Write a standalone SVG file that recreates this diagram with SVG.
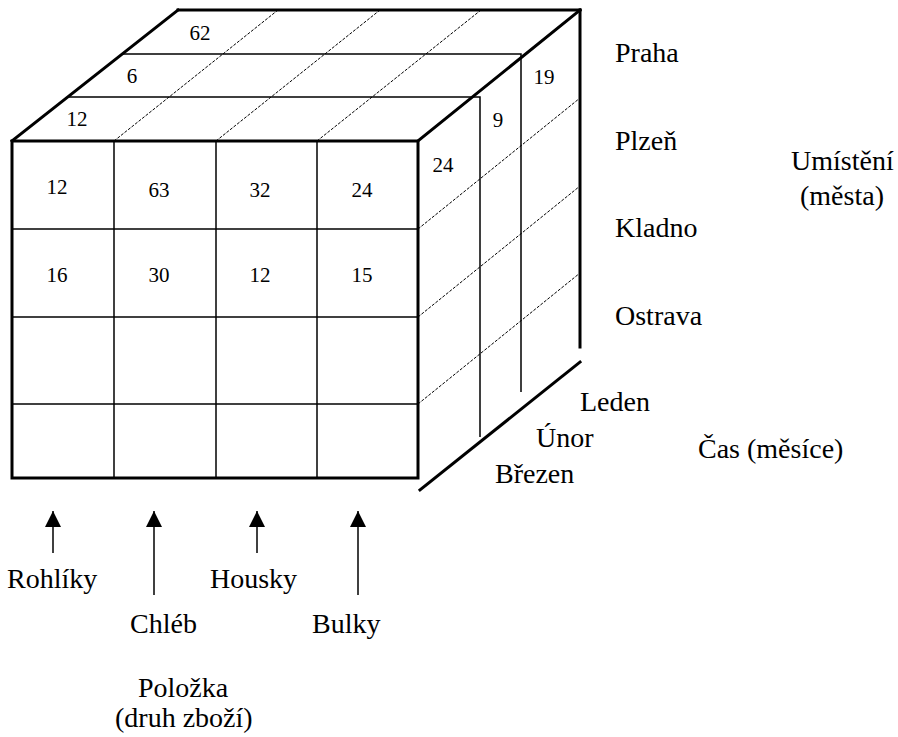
<svg xmlns="http://www.w3.org/2000/svg" width="898" height="737" viewBox="0 0 898 737">
<defs>
<style>
.thick{stroke:#000;stroke-width:3;fill:none;stroke-linecap:square}
.thin{stroke:#000;stroke-width:1.5;fill:none}
.dash{stroke:#000;stroke-width:1;fill:none;stroke-dasharray:3 1.5}
.num{font-family:"Liberation Serif",serif;font-size:21px;fill:#000;text-anchor:middle}
.lbl{font-family:"Liberation Serif",serif;font-size:28px;fill:#000}
</style>
<marker id="ah" viewBox="0 0 16 16" markerWidth="16" markerHeight="16" refX="16" refY="8" orient="auto" markerUnits="userSpaceOnUse">
<path d="M0,0 L16,8 L0,16 Z" fill="#000"/>
</marker>
</defs>
<rect width="898" height="737" fill="#fff"/>
<g id="cube">
<g id="top-face">
<line class="dash" x1="114" y1="141" x2="278" y2="10"/>
<line class="dash" x1="216" y1="141" x2="380" y2="10"/>
<line class="dash" x1="317" y1="141" x2="481" y2="10"/>
<polyline class="thin" points="68,97 480,97 480,437"/>
<polyline class="thin" points="122,54 521,54 521,392"/>
<line class="thick" x1="12" y1="141" x2="178" y2="10"/>
<line class="thick" x1="178" y1="10" x2="580" y2="10"/>
<line class="thick" x1="418" y1="141" x2="580" y2="10"/>
<line class="thick" x1="580" y1="10" x2="580" y2="347"/>
</g>
<g id="right-face">
<line class="dash" x1="418" y1="229" x2="580" y2="98"/>
<line class="dash" x1="418" y1="317" x2="580" y2="186"/>
<line class="dash" x1="418" y1="404" x2="580" y2="273"/>
<line class="thick" x1="420" y1="490" x2="580" y2="362"/>
</g>
<g id="front-face">
<line class="thin" x1="114" y1="141" x2="114" y2="478"/>
<line class="thin" x1="216" y1="141" x2="216" y2="478"/>
<line class="thin" x1="317" y1="141" x2="317" y2="478"/>
<line class="thin" x1="12" y1="229" x2="418" y2="229"/>
<line class="thin" x1="12" y1="317" x2="418" y2="317"/>
<line class="thin" x1="12" y1="404" x2="418" y2="404"/>
<rect class="thick" x="12" y="141" width="406" height="337"/>
</g>
<g id="values">
<text class="num" x="57" y="194">12</text>
<text class="num" x="159" y="197">63</text>
<text class="num" x="260" y="197">32</text>
<text class="num" x="362" y="197">24</text>
<text class="num" x="57" y="282">16</text>
<text class="num" x="159" y="282">30</text>
<text class="num" x="260" y="282">12</text>
<text class="num" x="362" y="282">15</text>
<text class="num" x="200" y="40">62</text>
<text class="num" x="132" y="83">6</text>
<text class="num" x="77" y="126">12</text>
<text class="num" x="544" y="84">19</text>
<text class="num" x="498" y="127">9</text>
<text class="num" x="443" y="172">24</text>
</g>
</g>
<g id="cities">
<text class="lbl" x="615" y="62">Praha</text>
<text class="lbl" x="615" y="150">Plzeň</text>
<text class="lbl" x="615" y="237">Kladno</text>
<text class="lbl" x="615" y="325">Ostrava</text>
<text class="lbl" x="791" y="170">Umístění</text>
<text class="lbl" x="800" y="205">(města)</text>
</g>
<g id="months">
<text class="lbl" x="580" y="411">Leden</text>
<text class="lbl" x="536" y="447">Únor</text>
<text class="lbl" x="495" y="483">Březen</text>
<text class="lbl" x="698" y="458">Čas (měsíce)</text>
</g>
<g id="connectors">
<line class="thin" x1="53" y1="553" x2="53" y2="511" marker-end="url(#ah)"/>
<line class="thin" x1="154" y1="595" x2="154" y2="511" marker-end="url(#ah)"/>
<line class="thin" x1="257" y1="553" x2="257" y2="511" marker-end="url(#ah)"/>
<line class="thin" x1="358" y1="595" x2="358" y2="511" marker-end="url(#ah)"/>
</g>
<g id="items">
<text class="lbl" x="7" y="588">Rohlíky</text>
<text class="lbl" x="130" y="633">Chléb</text>
<text class="lbl" x="210" y="588">Housky</text>
<text class="lbl" x="312" y="633">Bulky</text>
<text class="lbl" x="138" y="697">Položka</text>
<text class="lbl" x="115" y="727">(druh zboží)</text>
</g>
</svg>
